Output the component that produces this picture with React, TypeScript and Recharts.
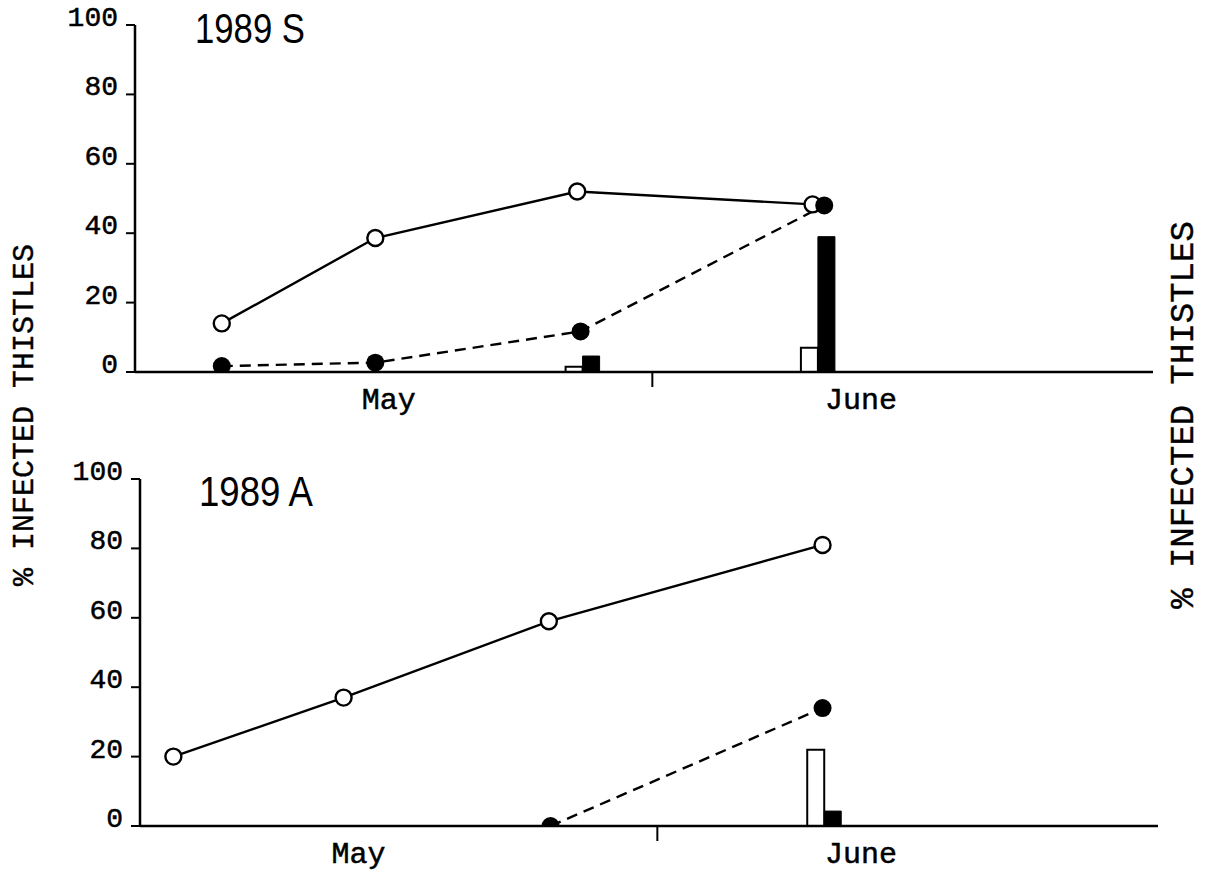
import React from 'react';
import { ComposedChart, Line, Bar, XAxis, YAxis } from 'recharts';

// x positions are days counted from the start of May; y values are percentages
const dayDomain: [number, number] = [0, 61];
const pctTicks = [0, 20, 40, 60, 80, 100];

// 1989 S
const sOpenDays = [5.2, 14.4, 26.5, 40.6];
const sOpenPct = [14, 38.6, 52, 48.3];
const sFilledDays = [5.2, 14.4, 26.7, 41.3];
const sFilledPct = [1.7, 2.7, 11.7, 48];
const sBarDays = [26.8, 40.9];
const sBarOpen = [1.5, 7];
const sBarFilled = [4.6, 39];
const sMonthTickDays = [15.2, 31, 43.5];

// 1989 A
const aOpenDays = [2.0, 12.2, 24.5, 40.9];
const aOpenPct = [20, 37, 59, 81];
const aFilledDays = [24.6, 40.9];
const aFilledPct = [0, 34];
const aBarDays = [41.0];
const aBarOpen = [22];
const aBarFilled = [4.3];
const aMonthTickDays = [13.1, 31, 43.2];

const monthTickNames = ['May', '', 'June'];

const MONO = '"Liberation Mono", "DejaVu Sans Mono", monospace';
const INK = '#000';

const toPoints = (days: number[], pct: number[]) =>
  days.map((d, i) => ({ day: d, pct: pct[i] }));

const toBars = (days: number[], open: number[], filled: number[]) =>
  days.map((d, i) => ({ day: d, barOpen: open[i], barFilled: filled[i] }));

const renderMonthTick = (props: any, tickDays: number[]) => {
  const { x, y, payload } = props;
  const idx = tickDays.indexOf(payload.value);
  const name = monthTickNames[idx] || '';
  if (!name) {
    return <line x1={x} x2={x} y1={y} y2={y + 15} stroke={INK} strokeWidth={2} />;
  }
  return (
    <text
      x={x}
      y={y + 37}
      textAnchor="middle"
      fontFamily={MONO}
      fontSize={30}
      fill={INK}
      stroke={INK}
      strokeWidth={0.5}
    >
      {name}
    </text>
  );
};

const renderPctTick = (props: any) => {
  const { x, y, payload } = props;
  return (
    <text
      x={x}
      y={y + 1}
      textAnchor="end"
      fontFamily={MONO}
      fontSize={28}
      fill={INK}
      stroke={INK}
      strokeWidth={0.5}
    >
      {payload.value}
    </text>
  );
};

type PanelProps = {
  top: number;
  margin: { top: number; right: number; left: number; bottom: number };
  xAxisHeight: number;
  open: { day: number; pct: number }[];
  filled: { day: number; pct: number }[];
  bars: { day: number; barOpen: number; barFilled: number }[];
  monthTicks: number[];
};

const Panel = ({ top, margin, xAxisHeight, open, filled, bars, monthTicks }: PanelProps) => (
  <div style={{ position: 'absolute', left: 0, top }}>
    <ComposedChart width={1210} height={440} data={bars} margin={margin} barGap={0}>
      <XAxis
        type="number"
        dataKey="day"
        domain={dayDomain}
        ticks={monthTicks}
        interval={0}
        height={xAxisHeight}
        tickSize={0}
        tickMargin={0}
        tickLine={false}
        axisLine={{ stroke: INK, strokeWidth: 2.5 }}
        tick={(p: any) => renderMonthTick(p, monthTicks)}
        allowDataOverflow
      />
      {/* separate hidden axis for the bars so their width is set by barSize alone */}
      <XAxis xAxisId="bars" type="number" dataKey="day" domain={dayDomain} hide allowDataOverflow />
      <YAxis
        type="number"
        domain={[0, 100]}
        ticks={pctTicks}
        interval={0}
        width={60}
        tickSize={9}
        tickMargin={8}
        tickLine={{ stroke: INK, strokeWidth: 2 }}
        axisLine={{ stroke: INK, strokeWidth: 2.5 }}
        tick={renderPctTick}
        allowDataOverflow
      />
      <Bar xAxisId="bars" dataKey="barOpen" barSize={17} fill="#fff" stroke={INK} strokeWidth={2} isAnimationActive={false} />
      <Bar xAxisId="bars" dataKey="barFilled" barSize={17} fill={INK} stroke={INK} strokeWidth={1} isAnimationActive={false} />
      <Line
        data={open}
        dataKey="pct"
        type="linear"
        stroke={INK}
        strokeWidth={2.4}
        dot={{ r: 8, fill: '#fff', stroke: INK, strokeWidth: 2.4 }}
        isAnimationActive={false}
      />
      <Line
        data={filled}
        dataKey="pct"
        type="linear"
        stroke={INK}
        strokeWidth={2.4}
        strokeDasharray="11 7"
        dot={{ r: 9, fill: INK, stroke: INK, strokeWidth: 0, strokeDasharray: '0' }}
        isAnimationActive={false}
      />
    </ComposedChart>
  </div>
);

export default function App() {
  return (
    <div style={{ position: 'absolute', left: 0, top: 0, width: 1210, height: 883, background: '#fff' }}>
      <Panel
        top={0}
        margin={{ top: 25, right: 57, left: 75, bottom: 0 }}
        xAxisHeight={68}
        open={toPoints(sOpenDays, sOpenPct)}
        filled={toPoints(sFilledDays, sFilledPct)}
        bars={toBars(sBarDays, sBarOpen, sBarFilled)}
        monthTicks={sMonthTickDays}
      />
      <Panel
        top={440}
        margin={{ top: 39, right: 52, left: 80, bottom: 0 }}
        xAxisHeight={54}
        open={toPoints(aOpenDays, aOpenPct)}
        filled={toPoints(aFilledDays, aFilledPct)}
        bars={toBars(aBarDays, aBarOpen, aBarFilled)}
        monthTicks={aMonthTickDays}
      />
      <svg
        width={1210}
        height={883}
        style={{ position: 'absolute', left: 0, top: 0, pointerEvents: 'none' }}
      >
        <text
          x={195}
          y={43}
          fontFamily='"Liberation Sans Narrow", "Liberation Sans", sans-serif'
          fontSize={42}
          textLength={110}
          lengthAdjust="spacingAndGlyphs"
          fill={INK}
        >
          1989 S
        </text>
        <text
          x={199}
          y={506}
          fontFamily='"Liberation Sans Narrow", "Liberation Sans", sans-serif'
          fontSize={42}
          textLength={114}
          lengthAdjust="spacingAndGlyphs"
          fill={INK}
        >
          1989 A
        </text>
        <text
          x={33}
          y={415}
          transform="rotate(-90 33 415)"
          textAnchor="middle"
          fontFamily={MONO}
          fontSize={30}
          fill={INK}
          stroke={INK}
          strokeWidth={0.4}
        >
          % INFECTED THISTLES
        </text>
        <text
          x={1193}
          y={415}
          transform="rotate(-90 1193 415)"
          textAnchor="middle"
          fontFamily={MONO}
          fontSize={34}
          fill={INK}
          stroke={INK}
          strokeWidth={0.4}
        >
          % INFECTED THISTLES
        </text>
      </svg>
    </div>
  );
}
